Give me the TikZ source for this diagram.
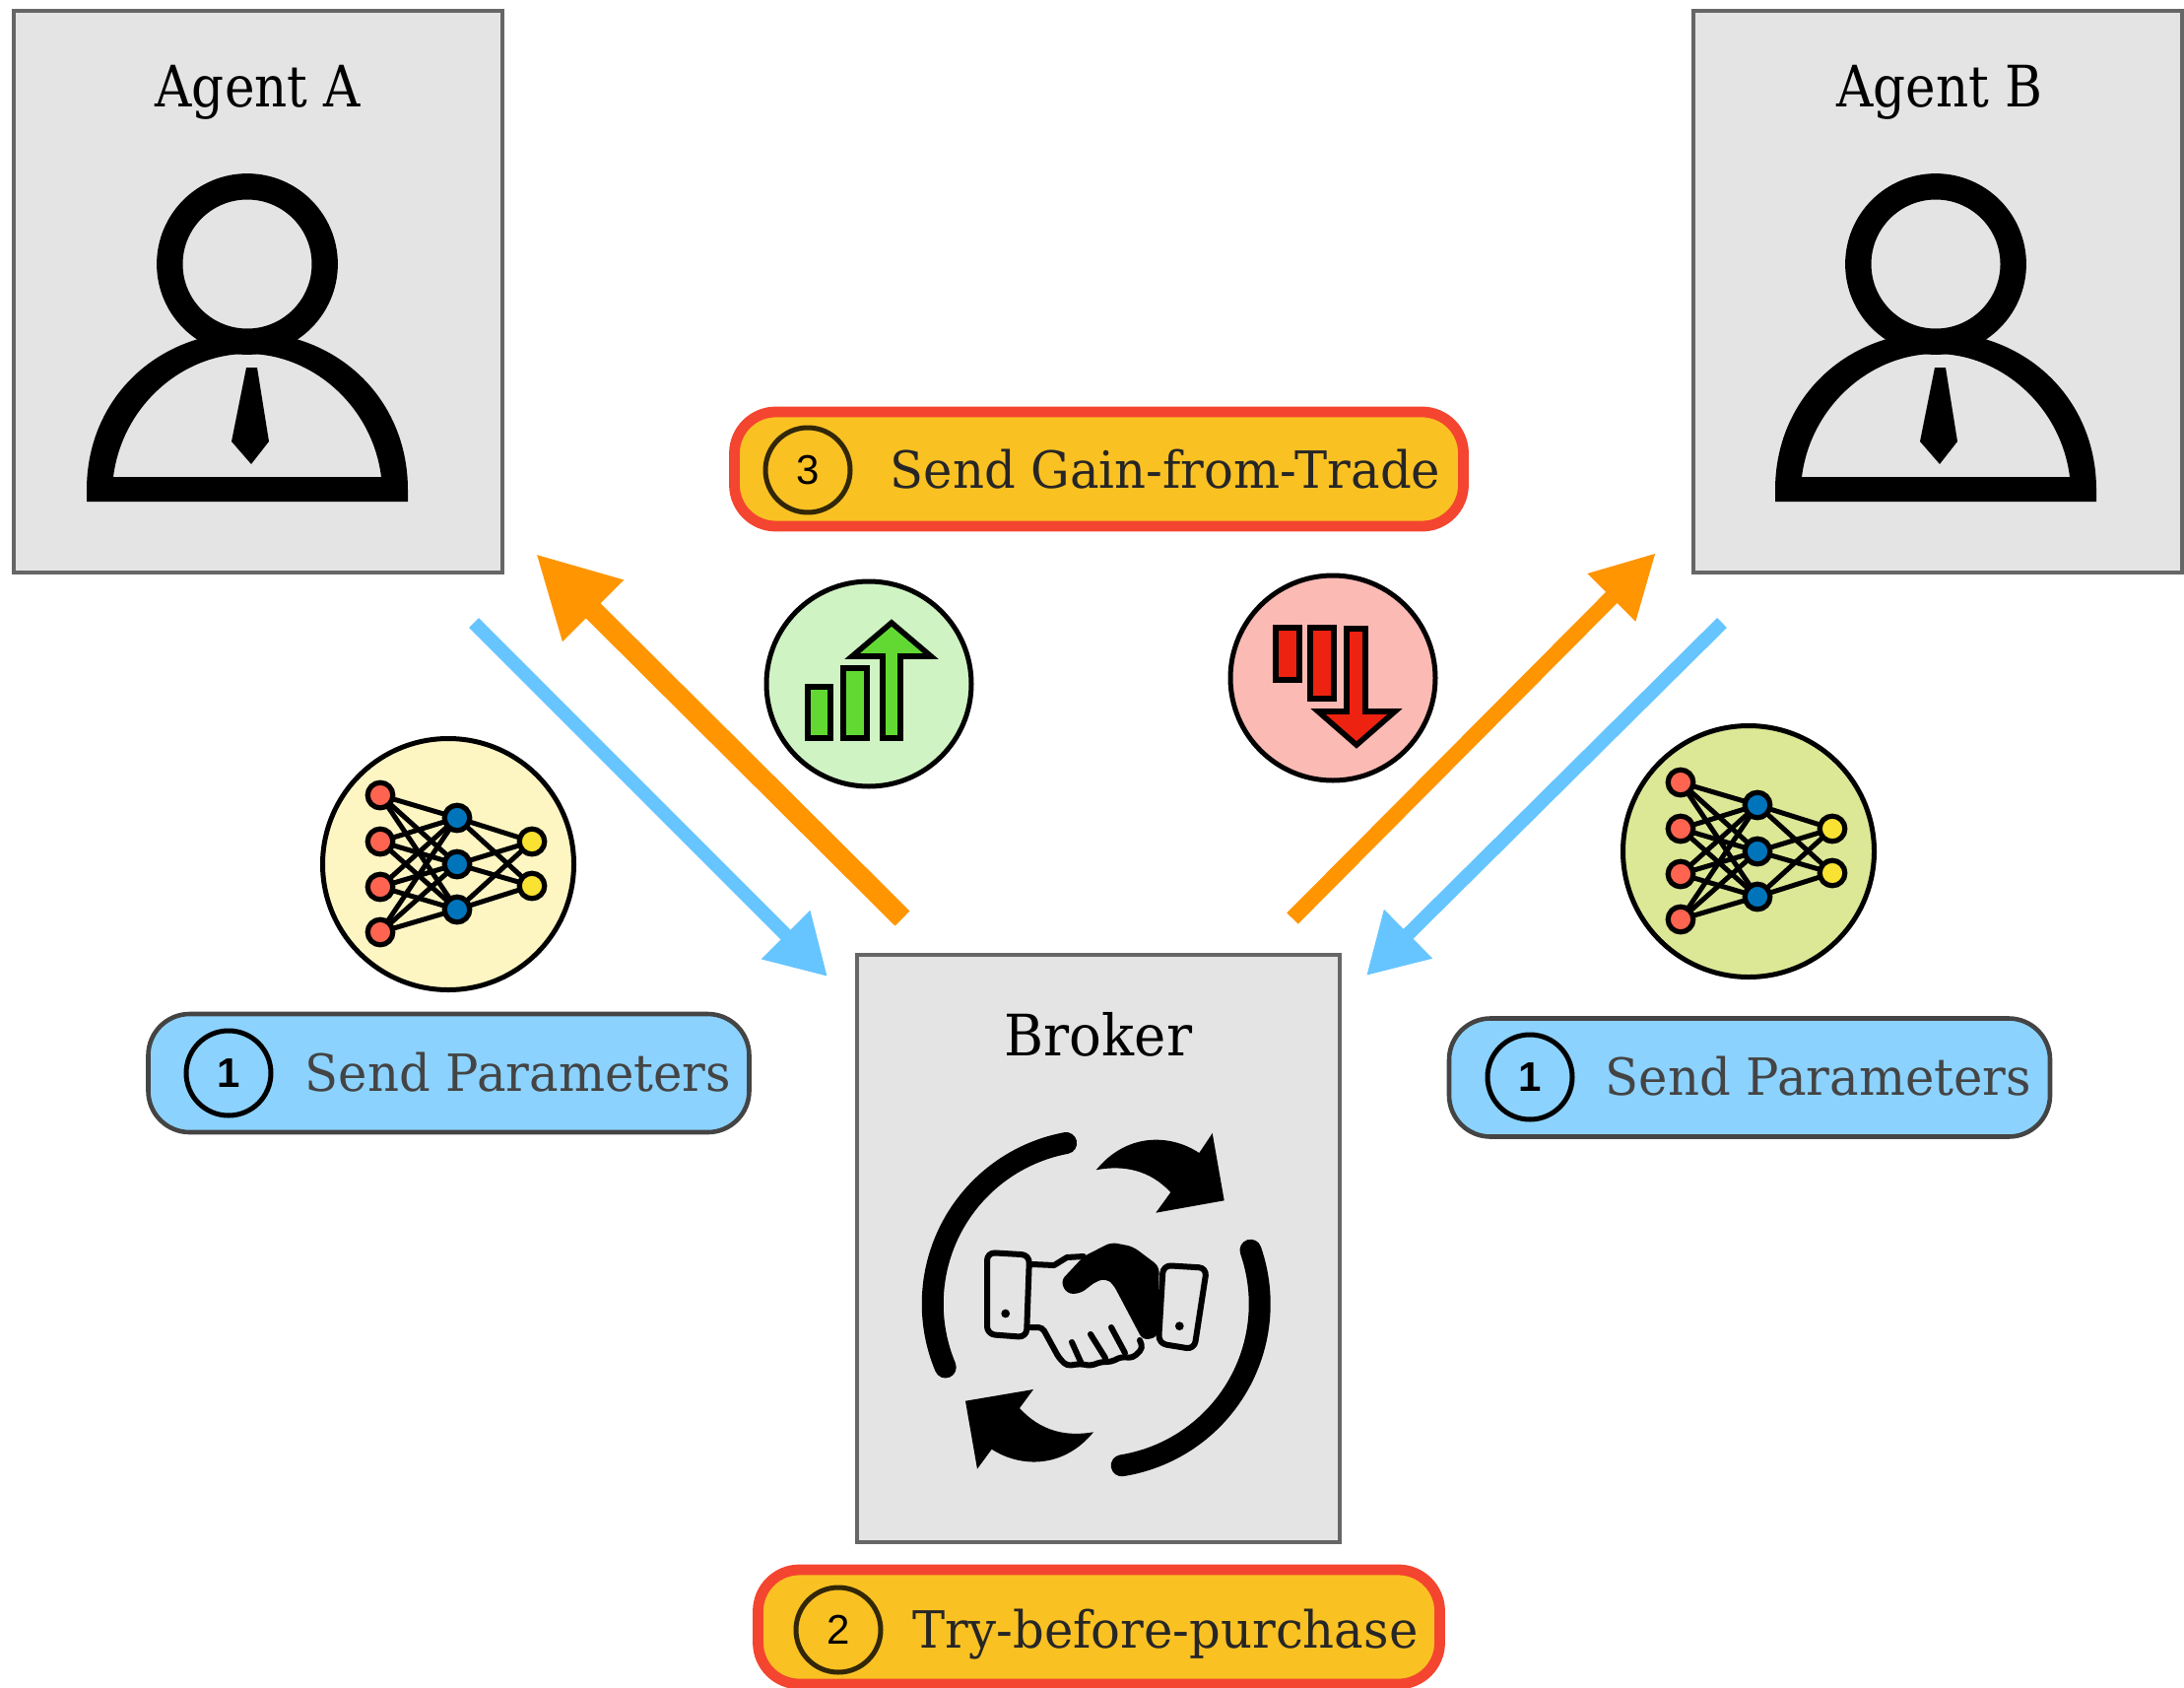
\documentclass[tikz,border=0pt]{standalone}
\usepackage{fontspec}
\usetikzlibrary{arrows.meta}
\setmainfont{DejaVu Serif}
\newfontfamily\headfont{DejaVu Serif}[FakeStretch=0.89]
\newfontfamily\brokfont{DejaVu Serif}[FakeStretch=0.94]
\newfontfamily\pillfont{DejaVu Serif}[FakeStretch=0.955]
\newfontfamily\numfont{Liberation Sans}
\definecolor{boxg}{HTML}{E4E4E4}
\definecolor{boxl}{HTML}{666666}
\definecolor{bluep}{HTML}{8CD2FF}
\definecolor{bluel}{HTML}{444444}
\definecolor{orp}{HTML}{FAC123}
\definecolor{redl}{HTML}{F44530}
\definecolor{arb}{HTML}{66C5FF}
\definecolor{aro}{HTML}{FF9500}
\definecolor{nred}{HTML}{FF6450}
\definecolor{nblue}{HTML}{0074BB}
\definecolor{nyel}{HTML}{F9E231}
\definecolor{cyel}{HTML}{FDF6C3}
\definecolor{cgrn}{HTML}{DDE896}
\definecolor{cgl}{HTML}{D0F3C4}
\definecolor{crl}{HTML}{FBBAB4}
\definecolor{bgrn}{HTML}{62D933}
\definecolor{bred}{HTML}{EE2211}
\tikzset{
  x=0.5pt,y=-0.5pt,
  panel/.style={draw=boxl,fill=boxg,line width=2.3pt,minimum width=#1,inner sep=0pt},
  panel/.default=248pt,
  headtxt/.style={font=\headfont\fontsize{29}{32}\selectfont,inner sep=0pt,anchor=base},
  brokertxt/.style={font=\brokfont\fontsize{29}{32}\selectfont,inner sep=0pt,anchor=base},
  pill/.style={rectangle,rounded corners=21pt,inner sep=0pt},
  bluepill/.style={pill,draw=bluel,fill=bluep,line width=2.3pt},
  orpill/.style={pill,draw=redl,fill=orp,line width=5.4pt},
  numc/.style={circle,draw=#1,line width=2.5pt,minimum size=43pt,inner sep=0pt,font=\numfont\fontsize{21}{23}\selectfont},
  numc/.default=black,
  pilltxt/.style={font=\pillfont\fontsize{26}{30}\selectfont,inner sep=0pt,anchor=base},
  arrowb/.style={draw=arb,line width=7pt,-{Triangle[length=30pt,width=33pt]}},
  arrowol/.style={draw=aro,line width=10.6pt,-{Triangle[length=41pt,width=41pt]}},
  arrowor/.style={draw=aro,line width=8pt,-{Triangle[length=32pt,width=32pt]}},
  nnbig/.style={circle,draw=black,line width=2.5pt,minimum size=127.5pt,inner sep=0pt},
  nnd/.style={circle,draw=black,line width=2.6pt,minimum size=12.8pt,inner sep=0pt,fill=#1},
  nnedge/.style={draw=black,line width=2.5pt},
  tradec/.style={circle,draw=black,line width=2.5pt,minimum size=104pt,inner sep=0pt},
  barsh/.style={draw=black,line width=2.8pt,miter limit=10},
  headc/.style={circle,draw=black,line width=13.2pt,minimum size=78.7pt,inner sep=0pt},
  shake/.style={draw=black,line width=3pt,line cap=round,line join=round},
}
\newcommand{\personicon}[1]{%
  \node[headc] (#1head) at (251,268) {};
  \fill[black,even odd rule]
    (88,509) -- (88,497) .. controls (88,405) and (159,337) .. (251,337)
    .. controls (343,337) and (414,405) .. (414,497) -- (414,509) -- cycle
    (115,484) .. controls (124,412) and (185,359) .. (251,359)
    .. controls (317,359) and (378,412) .. (387,484) -- cycle;
  \fill[black] (250,373) -- (261,373) -- (273,448) -- (255,471) -- (235,448) -- cycle;
}
\newcommand{\nnicon}[3]{% name, x offset, y offset
  \begin{scope}[shift={(#2,#3)}]
    \foreach \i/\yy in {1/807,2/854,3/900,4/946} \coordinate (#1r\i) at (386,\yy);
    \foreach \i/\yy in {1/830,2/877,3/923} \coordinate (#1b\i) at (464,\yy);
    \foreach \i/\yy in {1/854,2/899} \coordinate (#1y\i) at (540,\yy);
    \foreach \i in {1,2,3,4} \foreach \j in {1,2,3} \draw[nnedge] (#1r\i) -- (#1b\j);
    \foreach \i in {1,2,3} \foreach \j in {1,2} \draw[nnedge] (#1b\i) -- (#1y\j);
    \foreach \i in {1,2,3,4} \node[nnd=nred] at (#1r\i) {};
    \foreach \i in {1,2,3} \node[nnd=nblue] at (#1b\i) {};
    \foreach \i in {1,2} \node[nnd=nyel] at (#1y\i) {};
  \end{scope}
}
\begin{document}
\begin{tikzpicture}
\useasboundingbox (0,0) rectangle (2217,1713);
% panels
\node[panel,minimum width=248pt,minimum height=285pt] (agentA) at (262,296) {};
\node[panel,minimum width=248pt,minimum height=285pt] (agentB) at (1967,296) {};
\node[panel,minimum width=245pt,minimum height=298pt] (broker) at (1115,1267) {};
\node[headtxt] (labA) at (262,108) {Agent A};
\node[headtxt] (labB) at (1969,108) {Agent B};
\node[brokertxt] (labC) at (1115,1071) {Broker};
\personicon{pa}
\begin{scope}[shift={(1714,0)}]\personicon{pb}\end{scope}
% pills
\node[bluepill,minimum width=305pt,minimum height=60pt] (pillL) at (455.5,1089) {};
\node[bluepill,minimum width=305pt,minimum height=60pt] (pillR) at (1776,1093.5) {};
\node[orpill,minimum width=370pt,minimum height=58pt] (pillG) at (1115.5,476) {};
\node[orpill,minimum width=346pt,minimum height=58pt] (pillT) at (1115.5,1651) {};
\node[numc] (n1L) at (232,1089) {\textbf{1}};
\node[numc] (n1R) at (1553,1093) {\textbf{1}};
\node[numc=black!80!orp] (n3) at (820,477) {3};
\node[numc=black!80!orp] (n2) at (851,1654) {2};
\node[pilltxt,text=bluel] (tL) at (526,1107) {Send Parameters};
\node[pilltxt,text=bluel] (tR) at (1846,1111) {Send Parameters};
\node[pilltxt,text=black!85] (tG) at (1183,495) {Send Gain-from-Trade};
\node[pilltxt,text=black!85] (tT) at (1183,1672) {Try-before-purchase};
% connectors
\coordinate (bl0) at (481,632);
\coordinate (bl1) at (840,991);
\coordinate (ol0) at (916,932);
\coordinate (ol1) at (544,562);
\coordinate (or0) at (1312,932);
\coordinate (or1) at (1681,561);
\coordinate (br0) at (1748,632);
\coordinate (br1) at (1387,990);
\draw[arrowb] (bl0) -- (bl1);
\draw[arrowol] (ol0) -- (ol1);
\draw[arrowor] (or0) -- (or1);
\draw[arrowb] (br0) -- (br1);
% neural net badges
\node[nnbig,fill=cyel] (nnL) at (455,877) {};
\node[nnbig,fill=cgrn] (nnR) at (1775,864) {};
\nnicon{la}{0}{0}
\nnicon{ra}{1320}{-13}
% trade badges
\node[tradec,fill=cgl] (up) at (882,694) {};
\node[tradec,fill=crl] (down) at (1353,688) {};
\draw[barsh,fill=bgrn] (820,697) rectangle (843,749);
\draw[barsh,fill=bgrn] (856,678) rectangle (880,749);
\draw[barsh,fill=bgrn] (905,632) -- (945,666) -- (914,666) -- (914,749) -- (896,749) -- (896,666) -- (865,666) -- cycle;
\draw[barsh,fill=bred] (1295,637) rectangle (1319,690);
\draw[barsh,fill=bred] (1330,637) rectangle (1354,709);
\draw[barsh,fill=bred] (1367,638) -- (1386,638) -- (1386,722) -- (1416,722) -- (1377,756) -- (1338,722) -- (1367,722) -- cycle;
% broker icon
\draw[black,line width=11pt,line cap=round] (1082.2,1160) arc[start angle=100.6,end angle=202.8,radius=83pt];
\draw[black,line width=11pt,line cap=round] (1269.5,1268.7) arc[start angle=19.2,end angle=-81,radius=83pt];
\fill[black] (1112.7,1187.3) .. controls (1143,1150) and (1187,1150) .. (1217.3,1170)
  -- (1230.7,1150) -- (1242.7,1218.3) -- (1173.3,1230.7) -- (1188.3,1210)
  .. controls (1167,1187) and (1140,1182) .. cycle;
\fill[black] (1110,1453.3) .. controls (1080,1490) and (1036.7,1490) .. (1006.7,1470.7)
  -- (992,1490.7) -- (980,1421.7) -- (1049,1410) -- (1035,1429)
  .. controls (1057,1453) and (1083,1458) .. cycle;
% handshake
\fill[black,rounded corners=3pt] (1076.7,1300) -- (1100,1275) -- (1128,1260.7) -- (1150,1265) -- (1176.7,1285)
  -- (1175,1357) -- (1160,1360) -- (1130,1303.3) -- (1123.3,1297.7) -- (1113,1300) -- (1096.7,1312.7) -- (1083,1313) -- cycle;
\draw[shake,rounded corners=4pt,fill=boxg] (1002,1271) -- (1045,1273.5) -- (1042,1357) -- (1002,1354) -- cycle;
\draw[shake,rounded corners=4pt,fill=boxg] (1180.7,1284) -- (1225,1286.7) -- (1212.3,1369.3) -- (1176,1363.3) -- cycle;
\fill[black] (1020.7,1333) circle[radius=2.2pt];
\fill[black] (1197.3,1345.7) circle[radius=2.2pt];
\draw[shake] (1048,1283) -- (1070,1284) -- (1083,1276) -- (1100,1275);
\draw[shake,rounded corners=2pt] (1046,1347) -- (1058,1347) -- (1075,1378) -- (1083,1386) -- (1097,1384) -- (1107,1386) -- (1118,1382) -- (1128,1382) -- (1138,1377) -- (1150,1378) -- (1160,1368) -- (1157,1360);
\draw[shake] (1088,1362) -- (1097,1382);
\draw[shake] (1107,1354) -- (1122,1378);
\draw[shake] (1128,1347) -- (1142,1373);
\end{tikzpicture}
\end{document}
